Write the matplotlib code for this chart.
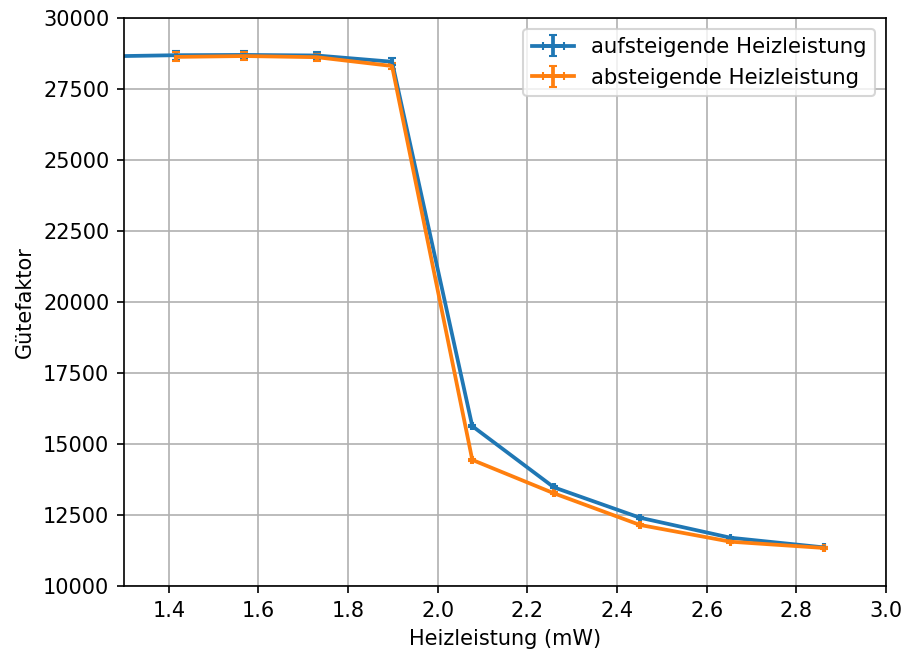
import matplotlib
matplotlib.use("Agg")
import matplotlib.pyplot as plt
import numpy as np

# aufsteigende Heizleistung
P_up = [1.26, 1.416, 1.568, 1.730, 1.898, 2.077, 2.259, 2.451, 2.653, 2.861]
Q_up = [28650, 28690, 28700, 28680, 28460, 15630, 13475, 12405, 11700, 11360]
Pe_up = [0.002] * len(P_up)
Qe_up = [160, 160, 140, 130, 120, 40, 30, 30, 30, 30]

# absteigende Heizleistung
P_down = [1.416, 1.568, 1.730, 1.898, 2.077, 2.259, 2.451, 2.653, 2.861]
Q_down = [28630, 28660, 28620, 28310, 14440, 13265, 12150, 11560, 11340]
Pe_down = [0.002] * len(P_down)
Qe_down = [160, 150, 130, 120, 40, 30, 30, 30, 30]

fig = plt.figure(figsize=(906/150, 653/150), dpi=150)
ax = fig.add_axes([124/906, 1 - 586/653, (886-124)/906, (586-18)/653])

ax.errorbar(P_up, Q_up, xerr=Pe_up, yerr=Qe_up, capsize=2, lw=1.8,
            label="aufsteigende Heizleistung")
ax.errorbar(P_down, Q_down, xerr=Pe_down, yerr=Qe_down, capsize=2, lw=1.8,
            label="absteigende Heizleistung")

ax.set_xlim(1.3, 3.0)
ax.set_ylim(10000, 30000)
ax.set_xlabel("Heizleistung (mW)")
ax.set_ylabel("Gütefaktor")
ax.grid(True)
ax.legend(loc="upper right", prop={"size": 10.2})

fig.savefig("out.png", dpi=150)
